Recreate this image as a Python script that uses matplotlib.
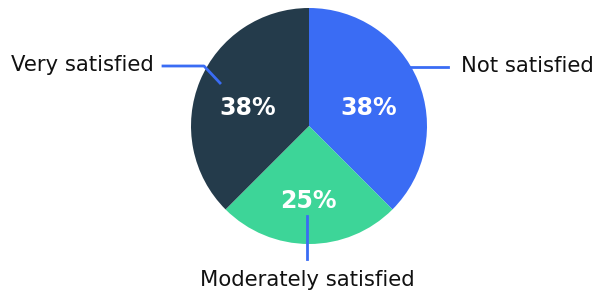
import matplotlib.pyplot as plt

# satisfaction survey shares (%)
categories = ['Not satisfied', 'Moderately satisfied', 'Very satisfied']
shares = [37.5, 25.0, 37.5]
colors = ['#3a6cf4', '#3dd598', '#243b4b']
line_color = '#3a6cf4'

W, H = 598, 294
fig = plt.figure(figsize=(W / 100, H / 100), dpi=100)
ax = fig.add_axes([0, 0, 1, 1])

cx, cy, r = 309, H - 126, 118
wedges, texts, autotexts = ax.pie(
    shares, colors=colors, startangle=90, counterclock=False,
    center=(cx, cy), radius=r, autopct=lambda p: f'{round(p)}%',
    pctdistance=0.6, textprops=dict(color='white', fontsize=17, fontweight='bold'),
    wedgeprops=dict(linewidth=0), frame=True)
ax.set_xlim(0, W)
ax.set_ylim(0, H)
ax.set_aspect('equal')
ax.axis('off')

# nudge percentage labels
pct_pos = [(369, H - 108), (308, H - 201), (248, H - 108)]
for t, (x, y) in zip(autotexts, pct_pos):
    t.set_position((x, y))
    t.set_ha('center')
    t.set_va('center')

lbl = dict(fontsize=15.2, color='#111111')
# Not satisfied
ax.plot([410, 448], [H - 67, H - 67], color=line_color, lw=2)
ax.text(461, H - 66, categories[0], ha='left', va='center', **lbl)
# Moderately satisfied
ax.plot([307, 307], [H - 216, H - 259], color=line_color, lw=2)
ax.text(307, H - 280, categories[1], ha='center', va='center', **lbl)
# Very satisfied
ax.plot([220, 204, 163], [H - 83, H - 66, H - 66], color=line_color, lw=2)
ax.text(154, H - 65, categories[2], ha='right', va='center', **lbl)

fig.savefig('out.png', dpi=100)
